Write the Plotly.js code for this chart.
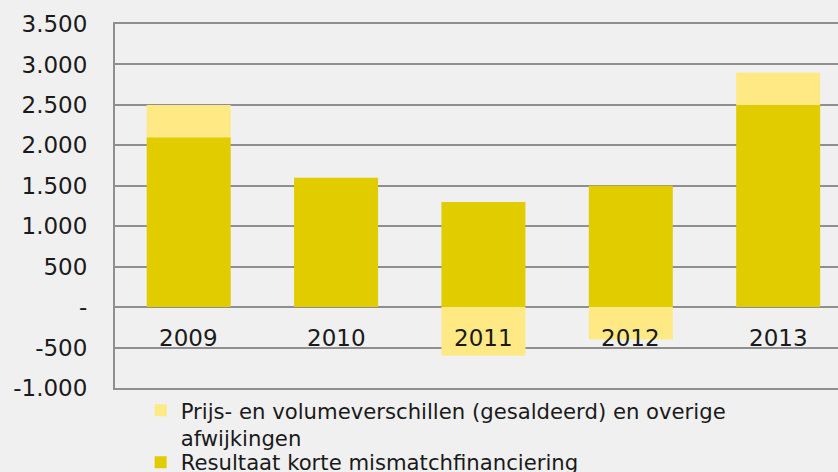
<!DOCTYPE html>
<html>
<head>
<meta charset="utf-8">
<script src="https://cdn.plot.ly/plotly-3.0.1.min.js"></script>
<style>html,body{margin:0;padding:0;background:#f0f0f0;}#chart{width:838px;height:472px;}</style>
</head>
<body>
<div id="chart"></div>
<script>
var years = ['2009', '2010', '2011', '2012', '2013'];
var resultaatKorte = [2100, 1600, 1300, 1500, 2500];
var prijsVolume = [400, 0, -600, -400, 400];
var yTickVals = [-1000, -500, 0, 500, 1000, 1500, 2000, 2500, 3000, 3500];
var yTickText = ['-1.000', '-500', '-', '500', '1.000', '1.500', '2.000', '2.500', '3.000', '3.500'];
var nameDark = 'Resultaat korte mismatchfinanciering';
var nameLight = 'Prijs- en volumeverschillen (gesaldeerd) en overige<br>afwijkingen';

var FONT = 'DejaVu Sans, Verdana, sans-serif';
var GRID = '#8f8f8f';
var traces = [
  {type: 'bar', x: years, y: resultaatKorte, name: nameDark, legend: 'legend2',
   marker: {color: '#e1cc00', line: {width: 0}}, width: 0.57, hoverinfo: 'skip'},
  {type: 'bar', x: years, y: prijsVolume, name: nameLight, legend: 'legend',
   marker: {color: '#ffe985', line: {width: 0}}, width: 0.57, hoverinfo: 'skip'}
];
var annotations = years.map(function (yr, i) {
  return {x: i, y: 0, xref: 'x', yref: 'y', text: yr, showarrow: false,
    yanchor: 'middle', xanchor: 'center', yshift: -31,
    font: {family: FONT, size: 23, color: '#1a1a1a'}};
});
var legFont = {family: FONT, size: 21.2, color: '#1a1a1a'};
var layout = {
  width: 838, height: 472,
  paper_bgcolor: '#f0f0f0', plot_bgcolor: '#f0f0f0',
  margin: {l: 115, r: 0, t: 24, b: 84, autoexpand: false},
  barmode: 'relative',
  showlegend: true,
  legend: {orientation: 'v', x: 0.0355, y: -0.0055, xanchor: 'left', yanchor: 'top',
    valign: 'top', bgcolor: 'rgba(0,0,0,0)', font: legFont, itemwidth: 30},
  legend2: {orientation: 'v', x: 0.0355, y: -0.148, xanchor: 'left', yanchor: 'top',
    valign: 'top', bgcolor: 'rgba(0,0,0,0)', font: legFont, itemwidth: 30},
  xaxis: {type: 'category', range: [-0.5, 4.406], showticklabels: false, showgrid: false,
    zeroline: false, showline: true, mirror: 'all', linecolor: GRID, linewidth: 2,
    ticks: '', fixedrange: true},
  yaxis: {range: [-1000, 3500], tickvals: yTickVals, ticktext: yTickText,
    showgrid: true, gridcolor: GRID, gridwidth: 2,
    zeroline: true, zerolinecolor: GRID, zerolinewidth: 2,
    showline: true, linecolor: GRID, linewidth: 2,
    ticks: '', ticklabelstandoff: 21,
    tickfont: {family: FONT, size: 23, color: '#1a1a1a'}, fixedrange: true},
  annotations: annotations
};
Plotly.newPlot('chart', traces, layout, {displayModeBar: false, staticPlot: true});
</script>
</body>
</html>
